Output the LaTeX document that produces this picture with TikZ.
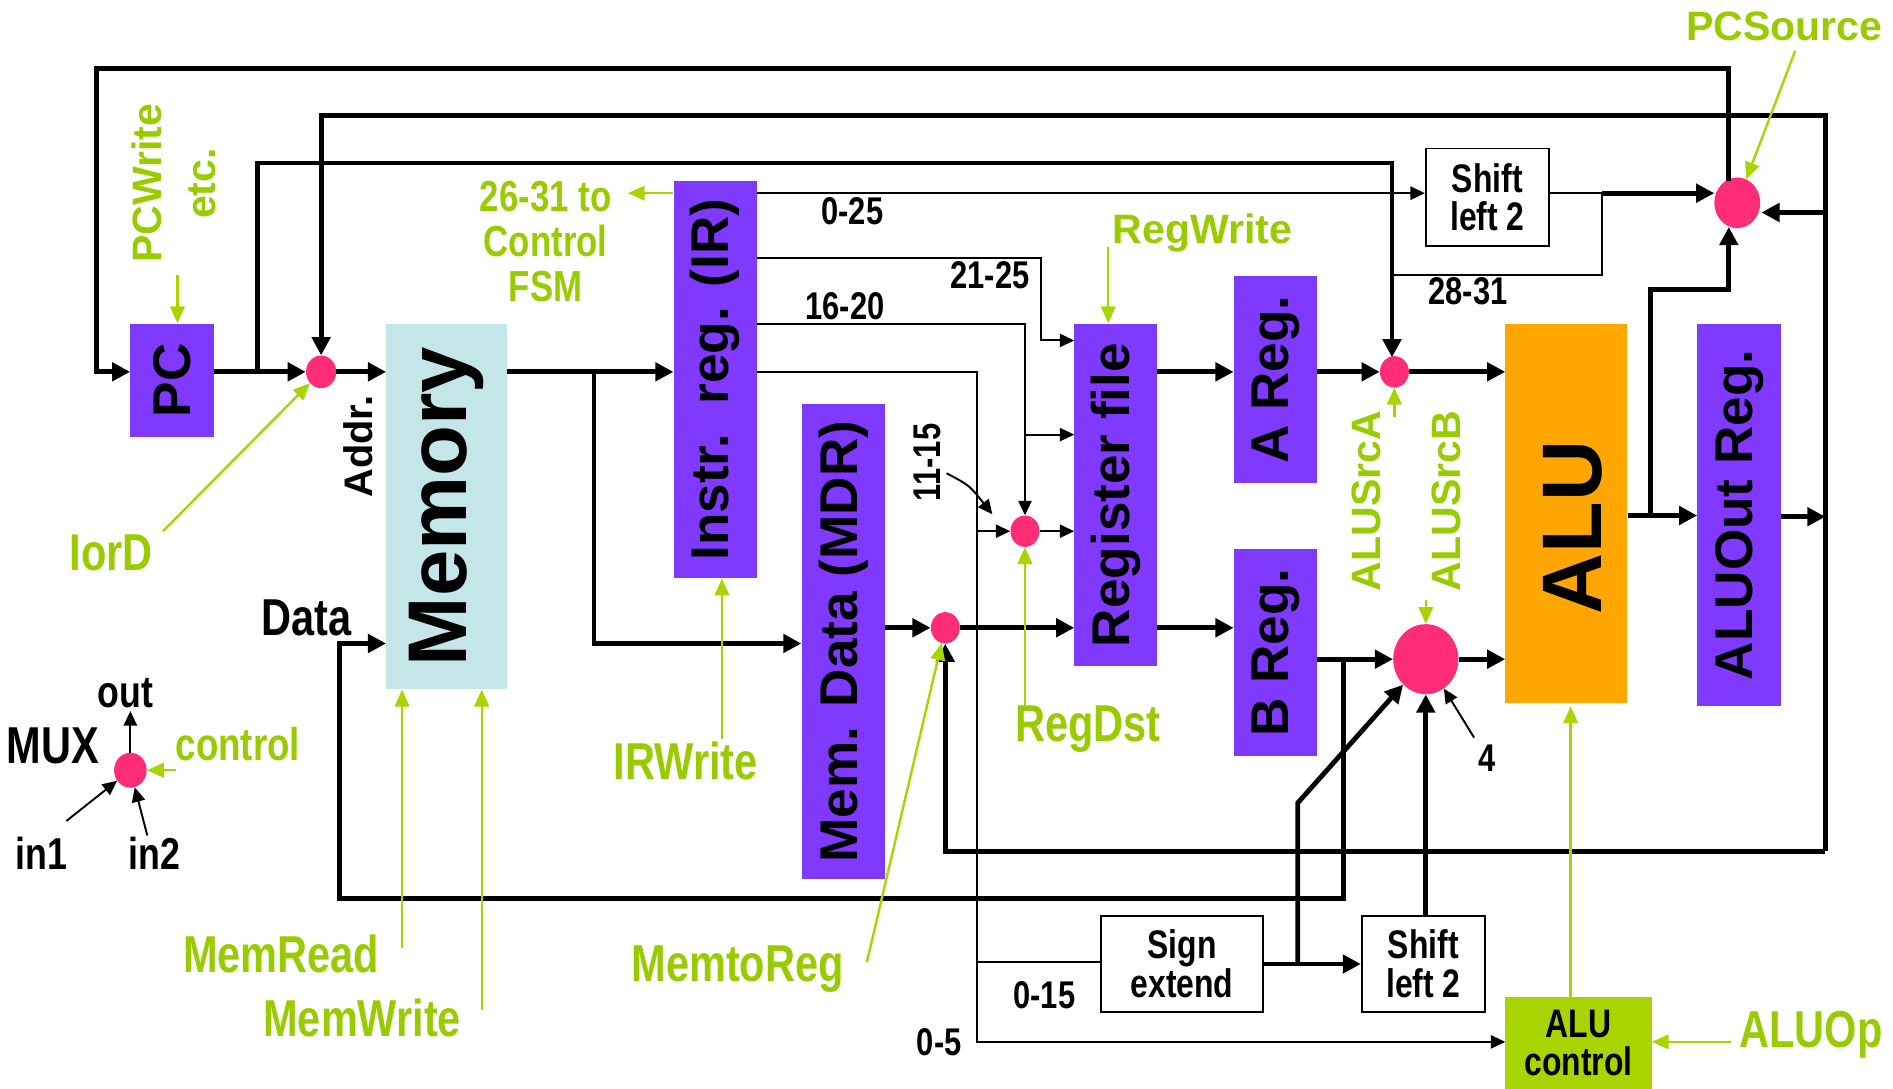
\documentclass[tikz,border=0pt]{standalone}
\usepackage{fontspec}
\setmainfont{Liberation Sans}
\newfontfamily\nar{Liberation Sans}[FakeStretch=0.80]
\usetikzlibrary{arrows.meta,shapes.geometric}
\definecolor{regpurple}{RGB}{128,57,255}
\definecolor{memcyan}{RGB}{196,230,233}
\definecolor{aluorange}{RGB}{255,166,0}
\definecolor{muxpink}{RGB}{255,45,120}
\definecolor{txtgreen}{RGB}{153,204,0}
\definecolor{linegreen}{RGB}{168,212,0}
\definecolor{boxgreen}{RGB}{168,212,0}
\newcommand\myfs[2]{\fontsize{#1}{#2}\selectfont}
\begin{document}
\begin{tikzpicture}[x=1pt,y=-1pt,
  reg/.style={fill=regpurple, inner sep=0, font=\myfs{44}{48}\bfseries},
  blk/.style={draw=black, line width=1.5pt, fill=white, inner sep=0, font=\nar\myfs{33}{32}\bfseries, align=center},
  mux/.style={ellipse, fill=muxpink, inner sep=0},
  wire/.style={line width=4pt},
  tw/.style={line width=1.6pt},
  gw/.style={line width=2pt, draw=linegreen},
  ta/.style={-{Triangle[length=15pt,width=15pt]}},
  sa/.style={-{Triangle[length=12pt,width=11pt]}},
  ga/.style={-{Triangle[length=14pt,width=12pt]}},
  glab/.style={text=txtgreen, inner sep=0, font=\nar\myfs{43}{45}\bfseries},
  gwide/.style={text=txtgreen, inner sep=0, font=\myfs{34}{45}\bfseries},
  blab/.style={inner sep=0, font=\nar\myfs{32}{32}\bfseries}]
\fill[white] (0,0) rectangle (1568,902);
\useasboundingbox (0,0) rectangle (1568,902);

% ---------- blocks ----------
\node[reg, minimum width=69, minimum height=94] (pc) at (142.5,315) {\rotatebox{90}{PC}};
\node[fill=memcyan, inner sep=0, minimum width=100, minimum height=303, font=\myfs{69}{70}\bfseries] (mem) at (370,419.5) {\rotatebox{90}{Memory}};
\node[reg, minimum width=69, minimum height=329] (ir) at (592.5,314.5) {\rotatebox{90}{Instr.\ \ reg. (IR)}};
\node[reg, minimum width=69, minimum height=393] (mdr) at (698.5,531.5) {\rotatebox{90}{Mem. Data (MDR)}};
\node[reg, minimum width=68, minimum height=284] (rf) at (924,410) {\rotatebox{90}{Register file}};
\node[reg, minimum width=69, minimum height=171] (areg) at (1056.5,314.5) {\rotatebox{90}{A Reg.}};
\node[reg, minimum width=69, minimum height=171] (breg) at (1056.5,540.5) {\rotatebox{90}{B Reg.}};
\node[fill=aluorange, inner sep=0, minimum width=101, minimum height=314] (alu) at (1297.5,425) {};
\node[inner sep=0, font=\myfs{70}{70}\bfseries] (alutxt) at (1303,437) {\rotatebox{90}{ALU}};
\node[reg, minimum width=69, minimum height=317] (aluout) at (1440.5,426.5) {\rotatebox{90}{ALUOut Reg.}};
\node[blk, minimum width=102, minimum height=81] (sl2t) at (1232,163.5) {Shift\\left 2};
\node[blk, minimum width=134, minimum height=79] (sx) at (979,798.5) {Sign\\extend};
\node[blk, minimum width=102, minimum height=79] (sl2b) at (1179,798.5) {Shift\\left 2};
\node[fill=boxgreen, inner sep=0, minimum width=121, minimum height=76, font=\nar\myfs{33}{32}\bfseries, align=center] (aluc) at (1307.5,864) {ALU\\control};

% ---------- muxes ----------
\node[mux, minimum width=25, minimum height=27] (miord) at (266,308) {};
\node[mux, minimum width=24, minimum height=26] (ma) at (1155,308) {};
\node[mux, minimum width=24, minimum height=26] (mregdst) at (849,440) {};
\node[mux, minimum width=24, minimum height=26] (mm) at (783,520) {};
\node[mux, minimum width=54, minimum height=58] (mb) at (1181,546) {};
\node[mux, minimum width=38, minimum height=42] (mpc) at (1439,168) {};
\node[mux, minimum width=27, minimum height=29] (mleg) at (108,638) {};

% ---------- thick wires ----------
% PCSource -> PC
\draw[wire,ta] (1432,150) -- (1432,57) -- (80,57) -- (80,308) -- (pc.west |- miord);
% ALUOut bus
\draw[wire,ta] (aluout.east |- 0,428) -- (1512,428);
\draw[wire,ta] (1512,705) -- (1512,96) -- (266,96) -- (miord.north);
\draw[wire,ta] (1512,705) -- (783,705) -- (mm.south);
\draw[wire,ta] (1512,176) -- (1459,176);
% PC -> ALUSrcA
\draw[wire,ta] (213,308) -- (213,135) -- (1153,135) -- (1153,296);
% PC -> IorD -> memory
\draw[wire,ta] (pc.east |- miord) -- (miord.west);
\draw[wire,ta] (miord.east) -- (mem.west |- miord);
% memory -> IR, MDR
\draw[wire,ta] (mem.east |- miord) -- (ir.west |- miord);
\draw[wire,ta] (492,308) -- (492,533) -- (mdr.west |- 0,533);
% MDR -> mux -> RF
\draw[wire,ta] (mdr.east |- mm) -- (mm.west);
\draw[wire,ta] (mm.east) -- (rf.west |- mm);
% RF -> A, B
\draw[wire,ta] (rf.east |- ma) -- (areg.west |- ma);
\draw[wire,ta] (areg.east |- ma) -- (ma.west);
\draw[wire,ta] (ma.east) -- (alu.west |- ma);
\draw[wire,ta] (rf.east |- mm) -- (breg.west |- mm);
\draw[wire,ta] (breg.east |- mb) -- (mb.west);
\draw[wire,ta] (mb.east) -- (alu.west |- mb);
% B -> memory data
\draw[wire,ta] (1113,546) -- (1113,744) -- (281,744) -- (281,533) -- (mem.west |- 0,533);
% sign extend / shift
\draw[wire,ta] (sx.east) -- (sl2b.west);
\draw[wire,ta] (1075,798.5) -- (1075,665) -- (mb);
\draw[wire,ta] (sl2b.north -| mb) -- (mb.south);
% ALU out
\draw[wire,ta] (alu.east |- 0,427) -- (aluout.west |- 0,427);
\draw[wire,ta] (1367,427) -- (1367,240) -- (1432,240) -- (1432,188);
% shift left 2 top -> PCSource
\draw[tw] (sl2t.east |- 0,160) -- (1327,160);
\draw[wire,ta] (1327,160) -- (1420,160);
\draw[tw] (1327,160) -- (1327,228) -- (1153,228);

% ---------- thin wires from IR ----------
\draw[tw,sa] (ir.east |- 0,160) -- (sl2t.west |- 0,160);
\draw[tw,sa] (ir.east |- 0,214) -- (862,214) -- (862,282) -- (rf.west |- 0,282);
\draw[tw,sa] (ir.east |- 0,268) -- (849,268) -- (mregdst.north);
\draw[tw,sa] (849,360) -- (rf.west |- 0,360);
\draw[tw,sa] (ir.east |- ma) -- (809,308) -- (809,863) -- (aluc.west |- 0,863);
\draw[tw,sa] (809,440) -- (mregdst.west);
\draw[tw,sa] (mregdst.east) -- (rf.west |- mregdst);
\draw[tw] (809,797) -- (sx.west |- 0,797);
\draw[tw,sa] (784,392) .. controls (803,402) .. (822,426);
\draw[tw,sa] (1221,611) -- (mb);

% ---------- labels ----------
\node[blab] (l025) at (706,175) {0-25};
\node[blab] (l2125) at (820,228) {21-25};
\node[blab] (l1620) at (700,254) {16-20};
\node[blab] (l2831) at (1216,241) {28-31};
\node[blab] (l1115) at (768,383) {\rotatebox{90}{11-15}};
\node[blab] (l015) at (865,824) {0-15};
\node[blab] (l05) at (778,863) {0-5};
\node[blab] (l4) at (1232,628) {4};
\node[inner sep=0, font=\myfs{33}{33}\bfseries] (addr) at (297,370) {\rotatebox{90}{Addr.}};
\node[inner sep=0, font=\nar\myfs{43}{43}\bfseries] (data) at (254,512) {Data};

% ---------- control signals ----------
\node[gwide] (pcw) at (147,152) {\rotatebox{90}{\begin{tabular}{@{}c@{}}PCWrite\\etc.\end{tabular}}};
\draw[gw,ga] (147,228) -- (pc.north -| 147,0);
\node[glab] (iord) at (92,458) {IorD};
\draw[gw,ga] (135,440) -- (miord);
\node[glab, font=\nar\myfs{36}{37}\bfseries, align=center] (fsm) at (452,200) {26-31 to\\Control\\FSM};
\draw[gw,ga] (ir.west |- 0,160) -- (520,160);
\node[glab] (irw) at (568,630) {IRWrite};
\draw[gw,ga] (598,612) -- (ir.south -| 598,0);
\node[glab] (memrdl) at (233,790) {MemRead};
\draw[gw,ga] (333,785) -- (mem.south -| 333,0);
\node[glab] (memwrl) at (300,843) {MemWrite};
\draw[gw,ga] (399,837) -- (mem.south -| 399,0);
\node[glab] (m2r) at (611,803) {MemtoReg};
\draw[gw,ga] (718,797) -- (mm);
\node[gwide] (rw) at (996,193) {RegWrite};
\draw[gw,ga] (918,205) -- (rf.north -| 918,0);
\node[glab] (rdl) at (901,604) {RegDst};
\draw[gw,ga] (849,586) -- (mregdst.south);
\node[gwide] (asa) at (1132,415) {\rotatebox{90}{ALUSrcA}};
\draw[gw,ga] (1155,345) -- (ma.south);
\node[gwide] (asb) at (1198,415) {\rotatebox{90}{ALUSrcB}};
\draw[gw,ga] (1181,497) -- (mb.north);
\node[gwide] (pcs) at (1478,22) {PCSource};
\draw[gw,ga] (1487,42) -- (mpc);
\draw[gw,ga] (aluc.north -| 1301,0) -- (1301,585);
\node[glab] (aluop) at (1500,857) {ALUOp};
\draw[gw,ga] (1434,863) -- (aluc.east |- 0,863);

% ---------- legend ----------
\node[inner sep=0, font=\nar\myfs{43}{43}\bfseries] (muxl) at (44,618) {MUX};
\node[inner sep=0, font=\nar\myfs{37}{37}\bfseries] (outl) at (104,574) {out};
\node[glab, font=\nar\myfs{38}{38}\bfseries] (ctll) at (197,616) {control};
\node[inner sep=0, font=\nar\myfs{37}{37}\bfseries] (in1) at (34,707) {in1};
\node[inner sep=0, font=\nar\myfs{37}{37}\bfseries] (in2) at (128,707) {in2};
\draw[tw,sa] (mleg.north) -- (108,589);
\draw[gw,ga] (146,638) -- (mleg.east);
\draw[tw,sa] (55,680) -- (mleg);
\draw[tw,sa] (122,692) -- (mleg);
\end{tikzpicture}
\end{document}
